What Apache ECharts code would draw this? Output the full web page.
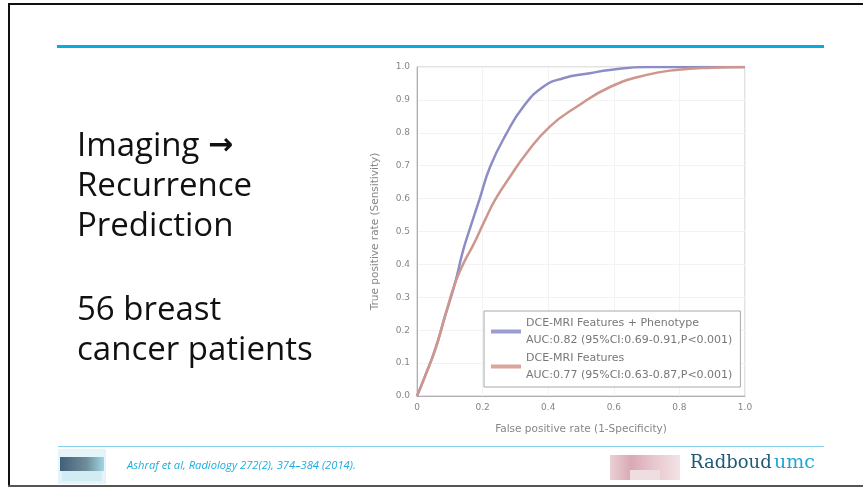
<!DOCTYPE html>
<html>
<head>
<meta charset="utf-8">
<script src="https://cdn.jsdelivr.net/npm/echarts@6/dist/echarts.min.js"></script>
<style>
  html, body { margin: 0; padding: 0; background: #fff; }
  #slide { width: 863px; height: 487px; }
</style>
</head>
<body>
<div id="slide"></div>
<script>
// ROC curves (false positive rate -> true positive rate)
var fprPheno = [0, 0.024, 0.055, 0.085, 0.116, 0.141, 0.165, 0.19, 0.223, 0.273, 0.324, 0.385, 0.446, 0.527, 0.588, 0.7, 0.8, 1.0];
var tprPheno = [0, 0.059, 0.14, 0.241, 0.343, 0.444, 0.52, 0.596, 0.697, 0.798, 0.879, 0.94, 0.966, 0.981, 0.991, 1, 1, 1];
var fprMri = [0, 0.024, 0.055, 0.085, 0.116, 0.145, 0.172, 0.205, 0.238, 0.284, 0.334, 0.405, 0.487, 0.59, 0.7, 0.79, 0.9, 1.0];
var tprMri = [0, 0.059, 0.14, 0.241, 0.343, 0.41, 0.46, 0.53, 0.596, 0.667, 0.738, 0.819, 0.879, 0.94, 0.976, 0.991, 0.998, 1];

var seriesNames = ['DCE-MRI Features + Phenotype', 'DCE-MRI Features'];
var aucLines = ['AUC:0.82 (95%CI:0.69-0.91,P<0.001)', 'AUC:0.77 (95%CI:0.63-0.87,P<0.001)'];
var xTicks = ['0', '0.2', '0.4', '0.6', '0.8', '1.0'];

var subLines = ['56 breast', 'cancer patients'];
var citation = 'Ashraf et al, Radiology 272(2), 374\u2013384 (2014).';

function pairs(xs, ys) {
  var out = [];
  for (var i = 0; i < xs.length; i++) out.push([xs[i], ys[i]]);
  return out;
}

var chart = echarts.init(document.getElementById('slide'));

var option = {
  backgroundColor: '#fff',
  animation: false,
  grid: {
    left: 417, top: 67, width: 328, height: 329,
    show: true, borderColor: '#c4c4c4', borderWidth: 1
  },
  xAxis: {
    type: 'value', min: 0, max: 1, interval: 0.2,
    name: 'False positive rate (1-Specificity)',
    nameLocation: 'middle', nameGap: 28,
    nameTextStyle: { color: '#868686', fontSize: 10.5, fontFamily: 'DejaVu Sans' },
    axisLine: { lineStyle: { color: '#b0b0b0' } },
    axisTick: { show: false },
    splitLine: { lineStyle: { color: '#f3f3f3' } },
    axisLabel: {
      color: '#868686', fontSize: 9, margin: 7, fontFamily: 'DejaVu Sans',
      formatter: function (v) { return xTicks[Math.round(v * 5)]; }
    }
  },
  yAxis: {
    type: 'value', min: 0, max: 1, interval: 0.1,
    name: 'True positive rate (Sensitivity)',
    nameLocation: 'middle', nameGap: 36, nameRotate: 90,
    nameTextStyle: { color: '#868686', fontSize: 10.5, fontFamily: 'DejaVu Sans' },
    axisLine: { show: true, lineStyle: { color: '#b0b0b0' } },
    axisTick: { show: false },
    splitLine: { lineStyle: { color: '#f3f3f3' } },
    axisLabel: {
      color: '#868686', fontSize: 9, margin: 7, fontFamily: 'DejaVu Sans',
      formatter: function (v) { return v.toFixed(1); }
    }
  },
  legend: {
    orient: 'vertical', left: 484, top: 311,
    padding: [3, 8, 3, 7], itemGap: 0,
    itemWidth: 30, itemHeight: 4, icon: 'rect',
    borderColor: '#a8a8a8', borderWidth: 1, backgroundColor: '#fff',
    data: seriesNames,
    formatter: function (name) {
      return name + '\n' + aucLines[seriesNames.indexOf(name)];
    },
    textStyle: { color: '#777', fontSize: 11, lineHeight: 17.5, fontFamily: 'DejaVu Sans' }
  },
  series: [{
    name: seriesNames[0], type: 'line', smooth: true, symbol: 'none',
    lineStyle: { color: '#8b8dc4', width: 2.5 },
    itemStyle: { color: '#9a9dd0' },
    data: pairs(fprPheno, tprPheno)
  }, {
    name: seriesNames[1], type: 'line', smooth: true, symbol: 'none',
    lineStyle: { color: '#cf968e', width: 2.5 },
    itemStyle: { color: '#dca49a' },
    data: pairs(fprMri, tprMri)
  }],
  graphic: [
    // slide frame
    { type: 'rect', shape: { x: 8, y: 3, width: 2, height: 484 }, style: { fill: '#111' } },
    { type: 'rect', shape: { x: 8, y: 3, width: 855, height: 2 }, style: { fill: '#111' } },
    { type: 'rect', shape: { x: 8, y: 485, width: 855, height: 2 }, style: { fill: '#555' } },
    // title rule and footer rule
    { type: 'rect', shape: { x: 57, y: 45, width: 767, height: 3 }, style: { fill: '#06ace0' } },
    { type: 'rect', shape: { x: 58, y: 446, width: 766, height: 1 }, style: { fill: '#86d2ee' } },
    // slide texts
    {
      type: 'text', left: 77, top: 130,
      style: {
        text: '{t|Imaging }{ar|\u2192}\n{t|Recurrence}\n{t|Prediction}',
        rich: {
          t: { font: '33px "Open Sans"', fill: '#111', lineHeight: 40 },
          ar: { font: 'bold 30px "DejaVu Sans"', fill: '#111', lineHeight: 40 }
        }
      }
    },
    {
      type: 'text', left: 77, top: 291,
      style: { text: subLines.join('\n'), font: '33px "Open Sans"', fill: '#111', lineHeight: 40 }
    },
    {
      type: 'text', left: 127, top: 460,
      style: { text: citation, font: 'italic 11.2px "Open Sans"', fill: '#1eaee0' }
    },
    // left footer logo (blurred)
    { type: 'rect', shape: { x: 58, y: 449, width: 48, height: 35 }, style: { fill: '#e4f4f8' } },
    { type: 'rect', shape: { x: 60, y: 457, width: 44, height: 14 },
      style: { fill: new echarts.graphic.LinearGradient(0, 0, 1, 0, [
        { offset: 0, color: '#40607a' }, { offset: 0.6, color: '#6f8c98' }, { offset: 1, color: '#9fd6e4' }]) } },
    { type: 'rect', shape: { x: 62, y: 471, width: 40, height: 10 }, style: { fill: '#d2ecf4' } },
    // right footer logo (blurred)
    { type: 'rect', shape: { x: 610, y: 455, width: 70, height: 25 },
      style: { fill: new echarts.graphic.LinearGradient(0, 0, 1, 0, [
        { offset: 0, color: '#ead0d6' }, { offset: 0.3, color: '#d8a9b4' }, { offset: 0.6, color: '#e6c5cc' }, { offset: 1, color: '#f3e3e6' }]) } },
    { type: 'rect', shape: { x: 630, y: 470, width: 30, height: 10 }, style: { fill: '#f0dde1' } },
    {
      type: 'text', left: 690, top: 454,
      style: { text: 'Radboud', font: '18px "DejaVu Serif"', fill: '#1d5a78' }
    },
    {
      type: 'text', left: 774, top: 454,
      style: { text: 'umc', font: '19px "DejaVu Serif"', fill: '#1ea6d8' }
    }
  ]
};

chart.setOption(option);
</script>
</body>
</html>
